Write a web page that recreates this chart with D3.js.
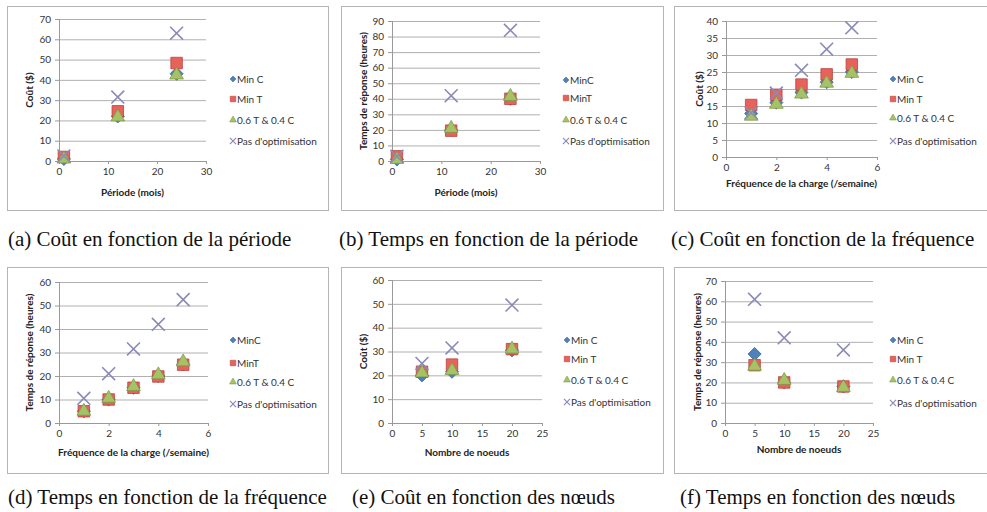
<!DOCTYPE html>
<html><head><meta charset="utf-8">
<script src="https://cdn.jsdelivr.net/npm/d3@7"></script>
<style>
body { margin: 0; background: #fff; }
svg { display: block; }
.tick text { font-family: Lato, "Open Sans", sans-serif; font-size: 10px; fill: #333; }
</style>
</head><body>
<svg id="fig" width="987" height="512"></svg>
<script>
// Series names (panels b and d write them without the space)
var seriesNames = ["Min C", "Min T", "0.6 T & 0.4 C", "Pas d'optimisation"];
var seriesNamesShort = ["MinC", "MinT", "0.6 T & 0.4 C", "Pas d'optimisation"];

var periodeX = [1, 12, 24];
var frequenceX = [1, 2, 3, 4, 5];
var noeudsX = [5, 10, 20];

// one row per series: Min C, Min T, 0.6 T & 0.4 C, Pas d'optimisation
var coutPeriode = [[1, 22, 43], [2, 24.5, 48.3], [1, 21.7, 42.4], [2.5, 31.5, 63]];
var tempsPeriode = [[1, 20, 40], [3, 19.5, 40], [1, 21, 41.5], [3, 42, 84]];
var coutFrequence = [[12.8, 16, 19, 22, 25], [15.3, 18.3, 21.3, 24.3, 27.2],
                     [12, 15.5, 18.5, 21.7, 24.6], [13, 18.8, 25.5, 31.7, 38]];
var tempsFrequence = [[5, 10, 15, 20, 25], [5, 10, 15, 19.8, 24.8],
                      [5, 10.5, 15.5, 20.5, 26], [10.5, 21, 31.5, 42, 52.5]];
var coutNoeuds = [[20, 21.5, 30.5], [21.5, 24.5, 31], [21, 22, 31], [25, 31.5, 49.5]];
var tempsNoeuds = [[34, 20, 18], [28.5, 20, 18], [28, 21, 17.5], [61, 42, 36]];

var periodeTicks = [0, 10, 20, 30];
var frequenceTicks = [0, 2, 4, 6];
var noeudsTicks = [0, 5, 10, 15, 20, 25];

var captions = ["(a) Coût en fonction de la période", "(b) Temps en fonction de la période",
  "(c) Coût en fonction de la fréquence", "(d) Temps en fonction de la fréquence",
  "(e) Coût en fonction des nœuds", "(f) Temps en fonction des nœuds"];

// panel setup
var panels = [
  {x: periodeX, y: coutPeriode, names: seriesNames, xTicks: periodeTicks, yMax: 70, yStep: 10,
   xTitle: "Période (mois)", yTitle: "Coût ($)",
   frame: [7, 6, 321, 204], plot: [59, 206, 19, 161], legX: 233, legY: [79, 99, 120, 141],
   yTitleX: 29, xTitleY: 196, cap: [8, 246]},
  {x: periodeX, y: tempsPeriode, names: seriesNamesShort, xTicks: periodeTicks, yMax: 90, yStep: 10,
   xTitle: "Période (mois)", yTitle: "Temps de réponse (heures)",
   frame: [341, 6, 322, 204], plot: [392, 540, 21, 161], legX: 566, legY: [80, 98, 120, 141],
   yTitleX: 363, xTitleY: 196, cap: [339, 246]},
  {x: frequenceX, y: coutFrequence, names: seriesNames, xTicks: frequenceTicks, yMax: 40, yStep: 5,
   xTitle: "Fréquence de la charge (/semaine)", yTitle: "Coût ($)",
   frame: [674, 6, 320, 204], plot: [726, 877, 21, 157], legX: 893, legY: [79, 99, 118, 141],
   yTitleX: 699, xTitleY: 187, cap: [671, 246]},
  {x: frequenceX, y: tempsFrequence, names: seriesNamesShort, xTicks: frequenceTicks, yMax: 60, yStep: 10,
   xTitle: "Fréquence de la charge (/semaine)", yTitle: "Temps de réponse (heures)",
   frame: [7, 267, 321, 206], plot: [59, 208, 282, 423], legX: 233, legY: [340, 363, 382, 404],
   yTitleX: 29, xTitleY: 456, cap: [8, 504]},
  {x: noeudsX, y: coutNoeuds, names: seriesNames, xTicks: noeudsTicks, yMax: 60, yStep: 10,
   xTitle: "Nombre de noeuds", yTitle: "Coût ($)",
   frame: [341, 267, 322, 206], plot: [392, 542, 280, 423], legX: 567, legY: [340, 359, 380, 402],
   yTitleX: 363, xTitleY: 456, cap: [352, 504]},
  {x: noeudsX, y: tempsNoeuds, names: seriesNames, xTicks: noeudsTicks, yMax: 70, yStep: 10,
   xTitle: "Nombre de noeuds", yTitle: "Temps de réponse (heures)",
   frame: [674, 267, 320, 206], plot: [725, 873, 281, 423], legX: 893, legY: [340, 359, 380, 403],
   yTitleX: 697, xTitleY: 453, cap: [680, 504]}
];

var fills = ["#4f81bd", "#e8625c", "#a5c366", "none"];
var strokes = ["#3a6699", "#b8423d", "#7f9a48", "#8a8ab8"];
var symbols = [d3.symbolDiamond2, d3.symbolSquare, d3.symbolTriangle, d3.symbolTimes || d3.symbolX];
var sizes = [110, 132, 82, 110];
var legSizes = [22, 30, 20, 26];

var svg = d3.select("#fig");

panels.forEach(function(p, i) {
  var g = svg.append("g");

  // frame
  g.append("rect")
    .attr("x", p.frame[0] + 0.5).attr("y", p.frame[1] + 0.5)
    .attr("width", p.frame[2]).attr("height", p.frame[3])
    .attr("fill", "#fff").attr("stroke", "#b5b5b5");

  var x = d3.scaleLinear()
    .domain([0, p.xTicks[p.xTicks.length - 1]])
    .range([p.plot[0], p.plot[1]]);
  var y = d3.scaleLinear()
    .domain([0, p.yMax])
    .range([p.plot[3], p.plot[2]]);
  var yTicks = d3.range(0, p.yMax + 0.001, p.yStep);

  // grid lines
  g.append("g")
    .attr("transform", "translate(" + p.plot[0] + ",0)")
    .call(d3.axisLeft(y).tickValues(yTicks.slice(1)).tickSize(-(p.plot[1] - p.plot[0])).tickFormat(""))
    .call(function(a) { a.select(".domain").remove(); })
    .selectAll("line").attr("stroke", "#b0b0b0");

  // Y axis
  g.append("g")
    .attr("transform", "translate(" + p.plot[0] + ",0)")
    .call(d3.axisLeft(y).tickValues(yTicks).tickSize(4).tickPadding(4).tickFormat(d3.format("d")))
    .call(function(a) {
      a.select(".domain").attr("stroke", "#9a9a9a").attr("d", "M0.5," + p.plot[2] + "V" + p.plot[3]);
      a.selectAll("line").attr("stroke", "#9a9a9a");
    });

  // X axis
  g.append("g")
    .attr("transform", "translate(0," + p.plot[3] + ")")
    .call(d3.axisBottom(x).tickValues(p.xTicks).tickSize(3).tickPadding(4).tickFormat(d3.format("d")))
    .call(function(a) {
      a.select(".domain").attr("stroke", "#9a9a9a").attr("d", "M" + p.plot[0] + ",0.5H" + p.plot[1]);
      a.selectAll("line").attr("stroke", "#9a9a9a");
    });

  // axis titles
  g.append("text")
    .attr("x", (p.plot[0] + p.plot[1]) / 2)
    .attr("y", p.xTitleY)
    .attr("text-anchor", "middle")
    .style("font-family", "Lato, 'Open Sans', sans-serif")
    .style("font-size", "10px").style("font-weight", "bold").style("fill", "#222")
    .text(p.xTitle);
  g.append("text")
    .attr("transform", "translate(" + p.yTitleX + "," + ((p.plot[2] + p.plot[3]) / 2) + ") rotate(-90)")
    .attr("text-anchor", "middle")
    .attr("dy", "0.35em")
    .style("font-family", "Lato, 'Open Sans', sans-serif")
    .style("font-size", "10px").style("font-weight", "bold").style("fill", "#222")
    .text(p.yTitle);

  // points, one series after another
  p.y.forEach(function(vals, s) {
    g.append("g").selectAll("path")
      .data(vals)
      .join("path")
        .attr("transform", function(d, k) { return "translate(" + x(p.x[k]) + "," + y(d) + ")"; })
        .attr("d", d3.symbol().type(symbols[s]).size(sizes[s]))
        .attr("fill", fills[s])
        .attr("stroke", strokes[s])
        .attr("stroke-width", s == 3 ? 1.6 : 0.8);
  });

  // legend
  var leg = g.append("g").selectAll("g")
    .data(p.names)
    .join("g")
      .attr("transform", function(d, s) { return "translate(" + p.legX + "," + p.legY[s] + ")"; });
  leg.append("path")
    .attr("d", function(d, s) { return d3.symbol().type(symbols[s]).size(legSizes[s])(); })
    .attr("fill", function(d, s) { return fills[s]; })
    .attr("stroke", function(d, s) { return strokes[s]; })
    .attr("stroke-width", function(d, s) { return s == 3 ? 1.2 : 0.6; });
  leg.append("text")
    .attr("x", 4)
    .attr("dy", "0.35em")
    .style("font-family", "Lato, 'Open Sans', sans-serif")
    .style("font-size", "10px").style("fill", "#333")
    .text(function(d) { return d; });

  // caption
  svg.append("text")
    .attr("x", p.cap[0]).attr("y", p.cap[1])
    .style("font-family", "'Liberation Serif', 'DejaVu Serif', serif")
    .style("font-size", "21px").style("fill", "#111")
    .text(captions[i]);
});
</script>
</body></html>
